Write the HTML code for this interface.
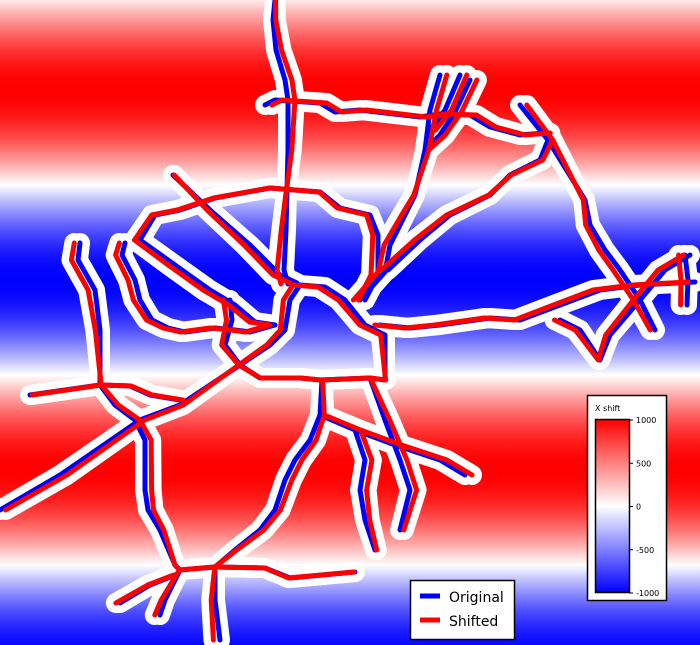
<!DOCTYPE html>
<html><head><meta charset="utf-8"><style>
html,body{margin:0;padding:0;background:#fff}
svg{display:block;font-family:"DejaVu Sans","Liberation Sans",sans-serif}
</style></head><body>
<svg id="chart" width="700" height="645" viewBox="0 0 700 645">
<defs><linearGradient id="bg" x1="0" y1="0" x2="0" y2="645" gradientUnits="userSpaceOnUse"></linearGradient>
<linearGradient id="cb" x1="0" y1="0" x2="0" y2="1"></linearGradient></defs>
<rect x="0" y="0" width="700" height="645" fill="url(#bg)"/>
<g id="halo"></g><g id="blue"></g><g id="red"></g>
<g>
<rect x="410.5" y="580.5" width="104" height="59" fill="#fff" stroke="#000" stroke-width="1.5"/>
<line x1="420" y1="596" x2="440" y2="596" stroke="#0000ff" stroke-width="5"/>
<text x="449" y="602" font-size="14">Original</text>
<line x1="420" y1="620" x2="440" y2="620" stroke="#ff0000" stroke-width="5"/>
<text x="449" y="626" font-size="14">Shifted</text>
</g>
<g>
<rect x="587.5" y="395.5" width="79" height="205" fill="#fff" stroke="#000" stroke-width="1.5"/>
<text x="595" y="411" font-size="8">X shift</text>
<rect x="595.5" y="419.5" width="34" height="173" fill="url(#cb)" stroke="#000" stroke-width="1.5"/>
<g id="cbticks" font-size="8"></g>
</g>
</svg>
<script>
const NS="http://www.w3.org/2000/svg";
const cbTicks=[1000,500,0,-500,-1000];
const maxShiftPx=7;
const roads=[
[[275,0],[273,20],[276,50],[285,80],[288,100],[288,150],[287,190],[286,230],[284,270],[288,284]],
[[265,105],[275,100],[320,103],[335,112],[360,110],[420,117],[440,114],[470,115],[490,127],[520,135],[545,133]],
[[173,175],[210,210],[250,245],[280,275],[297,283]],
[[140,240],[155,215],[180,210],[215,198],[270,188],[320,192],[340,208],[370,215],[378,235],[378,275],[365,300]],
[[140,240],[175,265],[210,290],[235,305],[255,322],[275,325]],
[[80,243],[78,260],[95,290],[100,330],[100,385],[115,405],[135,420],[145,440],[145,490],[148,510],[160,530],[175,565],[180,570]],
[[125,243],[122,255],[135,280],[140,300],[152,320],[168,328],[185,332],[215,328],[235,330],[250,332],[275,325]],
[[30,395],[100,385],[130,386],[150,395],[180,400]],
[[0,510],[60,475],[140,420],[180,405],[240,365],[270,345],[285,330],[290,300],[300,285],[325,287],[345,300],[365,325],[385,335],[385,380]],
[[230,300],[232,320],[225,345],[240,365],[260,378],[300,378],[320,380],[370,378],[385,380]],
[[360,300],[385,272],[390,245],[405,215],[415,195],[425,150],[430,110],[440,75]],
[[460,75],[445,110],[430,130]],
[[470,80],[455,112],[440,135],[425,150]],
[[388,270],[420,240],[450,215],[490,195],[510,175],[540,160],[548,140],[520,105]],
[[548,140],[585,200],[590,225],[605,250],[620,270],[640,300],[655,330]],
[[380,325],[410,328],[440,325],[490,318],[520,320],[560,305],[600,290],[640,285],[695,282]],
[[560,320],[580,330],[600,360],[610,335],[640,300],[665,270],[690,255]],
[[685,255],[688,280],[687,305]],
[[322,380],[320,415],[355,430],[395,445],[440,460],[465,475]],
[[355,430],[365,460],[360,490],[365,520],[375,550]],
[[370,378],[385,420],[400,460],[410,490],[400,530]],
[[320,415],[310,440],[295,460],[285,480],[275,510],[260,530],[235,550],[215,567],[180,570],[175,580],[165,600],[160,615]],
[[175,575],[150,585],[120,603]],
[[215,567],[215,600],[220,640]],
[[215,567],[265,568],[290,578],[355,572]]
];
function s(y){return Math.cos(2*Math.PI*(y-90)/380);}
function col(v){if(v>=0){const c=Math.round(255*(1-v));return `rgb(255,${c},${c})`;}const c=Math.round(255*(1+v));return `rgb(${c},${c},255)`;}
const bg=document.getElementById('bg');
for(let y=0;y<=645;y+=5){const st=document.createElementNS(NS,'stop');st.setAttribute('offset',(y/645).toFixed(4));st.setAttribute('stop-color',col(s(y)));bg.appendChild(st);}
const cb=document.getElementById('cb');
for(let i=0;i<=20;i++){const v=1-2*i/20;const st=document.createElementNS(NS,'stop');st.setAttribute('offset',(i/20).toFixed(3));st.setAttribute('stop-color',col(v));cb.appendChild(st);}
const tg=document.getElementById('cbticks');
cbTicks.forEach(t=>{const y=420+(1000-t)/2000*173;
const l=document.createElementNS(NS,'line');l.setAttribute('x1',629);l.setAttribute('x2',633);l.setAttribute('y1',y);l.setAttribute('y2',y);l.setAttribute('stroke','#000');


tg.appendChild(l);
const tx=document.createElementNS(NS,'text');tx.setAttribute('x',636);tx.setAttribute('y',y+3);tx.textContent=t;


tg.appendChild(tx);});
function pts(r,shift){return r.map(p=>[p[0]+(shift?maxShiftPx*s(p[1]):0),p[1]].map(v=>v.toFixed(1)).join(',')).join(' ');}
function line(g,r,shift,color,w,name){const pl=document.createElementNS(NS,'polyline');pl.setAttribute('points',pts(r,shift));pl.setAttribute('fill','none');pl.setAttribute('stroke',color);pl.setAttribute('stroke-width',w);pl.setAttribute('stroke-linecap','round');pl.setAttribute('stroke-linejoin','round');


g.appendChild(pl);}
const H=document.getElementById('halo'),B=document.getElementById('blue'),R=document.getElementById('red');
roads.forEach(r=>{line(H,r,false,'#fff',20,'road-halo');line(H,r,true,'#fff',20,'road-halo');});
roads.forEach(r=>{const pl=line(B,r,false,'#0000ff',5,'original-road');});
roads.forEach(r=>{line(R,r,true,'#ff0000',5,'shifted-road');});
</script>
</body></html>
